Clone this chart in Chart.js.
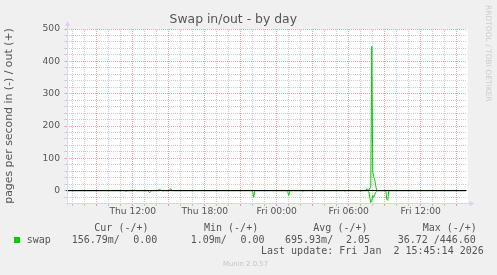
<!DOCTYPE html>
<html>
<head>
<meta charset="utf-8">
<title>Swap in/out - by day</title>
<script src="https://cdn.jsdelivr.net/npm/chart.js@4.4.1/dist/chart.umd.min.js"></script>
<style>
  html, body { margin: 0; padding: 0; background: #f0f0f0; }
  canvas { display: block; }
</style>
</head>
<body>
<canvas id="grafico" width="497" height="275"></canvas>
<script>
// samples where swap moved, zeros on both sides so the line drops back
let tiempos = [
  "Thu 06:25", "Thu 11:20", "Thu 11:25", "Thu 11:30", "Thu 11:35",
  "Thu 12:05", "Thu 12:10", "Thu 12:15",
  "Thu 13:15", "Thu 13:20", "Thu 13:25", "Thu 13:30", "Thu 13:35",
  "Thu 14:05", "Thu 14:10", "Thu 14:15", "Thu 14:20", "Thu 14:25",
  "Thu 15:00", "Thu 15:05", "Thu 15:10", "Thu 15:15", "Thu 15:20",
  "Thu 21:55", "Thu 22:00", "Thu 22:05", "Thu 22:10",
  "Fri 00:50", "Fri 00:55", "Fri 01:00", "Fri 01:05",
  "Fri 02:05", "Fri 02:10", "Fri 02:15",
  "Fri 05:35", "Fri 05:40", "Fri 05:45",
  "Fri 06:55", "Fri 07:00", "Fri 07:05",
  "Fri 07:25", "Fri 07:30", "Fri 07:35", "Fri 07:40", "Fri 07:45",
  "Fri 07:50", "Fri 07:55", "Fri 08:00", "Fri 08:05", "Fri 08:10",
  "Fri 08:15", "Fri 08:20",
  "Fri 09:05", "Fri 09:10", "Fri 09:15", "Fri 09:20", "Fri 15:45"
];
let swapOut = [
  0, 0, 0, 0, 0,
  0, 3, 0,
  0, 0, 0, 0, 0,
  0, 3, 3, 3, 0,
  0, 4, 6, 2, 0,
  0, 0, 0, 0,
  0, 0, 0, 0,
  0, 0, 0,
  0, 0, 0,
  0, 0, 0,
  0, 6, 4, 2, 8,
  10, 446.6, 58, 42, 33,
  14, 0,
  0, 0, 0, 0, 0
];
let swapIn = [
  0, 0, 2, 2, 0,
  0, 0, 0,
  0, 3, 6, 2, 0,
  0, 0, 0, 0, 0,
  0, 0, 0, 0, 0,
  0, 5, 20, 0,
  0, 5, 15, 0,
  0, 3, 0,
  0, 2, 0,
  0, 2, 0,
  0, 0, 1, 3, 20,
  36.72, 30, 15, 20, 12,
  5, 0,
  0, 26, 30, 0, 0
];

let horaInicio = 6.48;   // Thu 06:29
let horaFin = 39.81;     // Fri 15:49
let horasEtiqueta = [12, 18, 24, 30, 36];
let etiquetasX = ["Thu 12:00", "Thu 18:00", "Fri 00:00", "Fri 06:00", "Fri 12:00"];
let valoresEtiquetaY = [0, 100, 200, 300, 400, 500];
let minY = -38;
let maxY = 500;

let encabezados = ["Cur (-/+)", "Min (-/+)", "Avg (-/+)", "Max (-/+)"];
let valoresIn = ["156.79m/", "1.09m/", "695.93m/", "36.72 /"];
let valoresOut = ["0.00", "0.00", "2.05", "446.60"];
let ultimaActualizacion = "Last update: Fri Jan  2 15:45:14 2026";

const verde = "#00cc00";
const gris = "rgba(143,143,143,0.45)";
const rojo = "rgba(226,90,90,0.55)";
const azulEje = "#cfd6f8";
const colorTexto = "#555555";

function aHoras(t) {
  let [dia, hm] = t.split(" ");
  let [h, m] = hm.split(":").map(Number);
  return (dia === "Fri" ? 24 : 0) + h + m / 60;
}

let puntosOut = tiempos.map((t, i) => ({ x: aHoras(t), y: swapOut[i] }));
let puntosIn = tiempos.map((t, i) => ({ x: aHoras(t), y: -swapIn[i] }));

const marcoMunin = {
  id: "marcoMunin",
  beforeDraw(chart) {
    const { ctx, chartArea: a } = chart;
    ctx.save();
    ctx.fillStyle = "#ffffff";
    ctx.fillRect(a.left, a.top, a.right - a.left + 1, a.bottom - a.top);
    ctx.restore();
  },
  afterDatasetsDraw(chart) {
    const { ctx, chartArea: a, scales } = chart;
    let y0 = Math.round(scales.y.getPixelForValue(0) - 0.5) + 0.5;
    ctx.save();
    ctx.strokeStyle = "#000000";
    ctx.lineWidth = 1;
    ctx.beginPath();
    ctx.moveTo(a.left, y0);
    ctx.lineTo(a.right, y0);
    ctx.stroke();
    ctx.restore();
  },
  afterDraw(chart) {
    const { ctx, chartArea: a } = chart;
    let xe = Math.round(a.left) + 0.5;
    let ye = Math.round(a.bottom) + 0.5;
    ctx.save();
    // axes with arrows
    ctx.strokeStyle = azulEje;
    ctx.fillStyle = azulEje;
    ctx.lineWidth = 1;
    ctx.beginPath();
    ctx.moveTo(xe, ye + 2);
    ctx.lineTo(xe, a.top - 3);
    ctx.moveTo(xe - 2, ye);
    ctx.lineTo(a.right + 3, ye);
    ctx.stroke();
    ctx.beginPath();
    ctx.moveTo(xe, a.top - 8);
    ctx.lineTo(xe - 2.5, a.top - 3);
    ctx.lineTo(xe + 2.5, a.top - 3);
    ctx.closePath();
    ctx.fill();
    ctx.beginPath();
    ctx.moveTo(a.right + 8, ye);
    ctx.lineTo(a.right + 3, ye - 2.8);
    ctx.lineTo(a.right + 3, ye + 2.8);
    ctx.closePath();
    ctx.fill();

    // legend
    ctx.fillStyle = colorTexto;
    ctx.font = "10px 'DejaVu Sans Mono'";
    ctx.textBaseline = "middle";
    ctx.textAlign = "left";
    let xCab = [94.3, 204, 313.3, 422.7];
    let xIn = [71.7, 190.7, 285, 397.7];
    let xOut = [133.3, 240.5, 346, 439.7];
    encabezados.forEach((e, i) => ctx.fillText(e, xCab[i], 228));
    ctx.fillText("swap", 26.7, 240);
    valoresIn.forEach((v, i) => ctx.fillText(v, xIn[i], 240));
    valoresOut.forEach((v, i) => ctx.fillText(v, xOut[i], 240));
    ctx.fillText(ultimaActualizacion, 261, 251.5);
    ctx.fillStyle = verde;
    ctx.fillRect(14, 237, 6, 6);

    // credits
    ctx.fillStyle = "#c4c4c4";
    ctx.font = "6.9px 'DejaVu Sans'";
    ctx.textAlign = "center";
    ctx.fillText("Munin 2.0.57", 245.5, 264);
    ctx.fillStyle = "#cccccc";
    ctx.font = "7.5px 'DejaVu Sans'";
    ctx.translate(487.7, 53.3);
    ctx.rotate(Math.PI / 2);
    ctx.fillText("RRDTOOL / TOBI OETIKER", 0, 0);
    ctx.restore();
  }
};

let grafico = new Chart(document.getElementById("grafico"), {
  type: "line",
  data: {
    datasets: [
      { label: "swap out", data: puntosOut },
      { label: "swap in", data: puntosIn }
    ]
  },
  options: {
    responsive: false,
    animation: false,
    devicePixelRatio: 1,
    layout: { padding: { left: 0, right: 30.5, top: 0, bottom: 52 } },
    elements: {
      line: { borderColor: verde, borderWidth: 1, tension: 0, borderJoinStyle: "bevel" },
      point: { radius: 0 }
    },
    plugins: {
      legend: { display: false },
      tooltip: { enabled: false },
      title: {
        display: true,
        text: "Swap in/out - by day",
        color: colorTexto,
        font: { family: "'DejaVu Sans'", size: 12.4, weight: "normal", lineHeight: 1.2 },
        padding: { top: 11.9, bottom: 2.22 }
      }
    },
    scales: {
      x: {
        type: "linear",
        min: horaInicio,
        max: horaFin,
        afterFit(s) { s.height = 20; },
        afterBuildTicks(s) {
          // one grid line per hour
          let t = [];
          for (let h = Math.ceil(horaInicio); h <= horaFin; h++) t.push({ value: h });
          s.ticks = t;
        },
        ticks: {
          autoSkip: false,
          maxRotation: 0,
          padding: 0.5,
          color: colorTexto,
          font: { family: "'DejaVu Sans'", size: 9.2 },
          callback(v) {
            let i = horasEtiqueta.indexOf(v);
            return i >= 0 ? etiquetasX[i] : "";
          }
        },
        grid: {
          color: c => (c.tick.value % 3 === 0 ? rojo : gris),
          lineWidth: 1,
          tickLength: 3
        },
        border: { display: false, dash: [1, 1] }
      },
      y: {
        type: "linear",
        min: minY,
        max: maxY,
        afterFit(s) { s.width = 66.5; },
        afterBuildTicks(s) {
          // minor grid every 20
          let t = [];
          for (let v = Math.ceil(minY / 20) * 20; v <= maxY; v += 20) t.push({ value: v });
          s.ticks = t;
        },
        ticks: {
          autoSkip: false,
          padding: 4.5,
          color: colorTexto,
          font: { family: "'DejaVu Sans'", size: 9.2 },
          callback(v) {
            return valoresEtiquetaY.includes(v) ? String(v) : "";
          }
        },
        grid: {
          color: c => (c.tick.value % 100 === 0 ? rojo : gris),
          lineWidth: 1,
          tickLength: 2
        },
        border: { display: false, dash: [1, 1] },
        title: {
          display: true,
          text: "pages per second in (-) / out (+)",
          color: colorTexto,
          font: { family: "'DejaVu Sans'", size: 10.9, lineHeight: 1.2 },
          padding: { top: 3, bottom: 0 }
        }
      }
    }
  },
  plugins: [marcoMunin]
});
</script>
</body>
</html>
